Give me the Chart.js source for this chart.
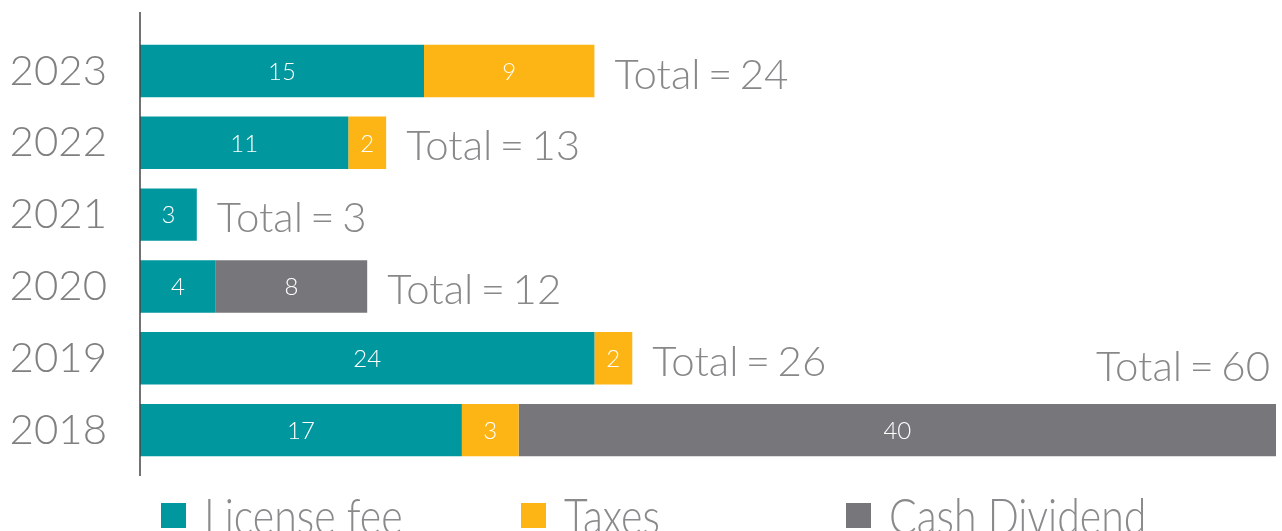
<!DOCTYPE html>
<html>
<head>
<meta charset="utf-8">
<script src="https://cdn.jsdelivr.net/npm/chart.js@4"></script>
<style>
  body { margin: 0; background: #fff; overflow: hidden; }
  .wrap { position: relative; width: 1282px; height: 531px; }
  #legend { position: absolute; left: 0; top: 487px; height: 44px; width: 1282px; overflow: hidden; }
  .item { position: absolute; top: 13px; display: flex; align-items: center; }
  .box { width: 25px; height: 25px; margin-right: 18px; }
  .txt { font-family: Lato, sans-serif; font-weight: 300; font-size: 50px; color: #8a8a8c;
         transform: scaleX(0.82); transform-origin: left center; white-space: nowrap; line-height: 30px; }
</style>
</head>
<body>
<div class="wrap">
  <canvas id="chart" width="1282" height="531"></canvas>
  <div id="legend"></div>
</div>
<script>
const years = ["2023", "2022", "2021", "2020", "2019", "2018"];
const licenseFee = [15, 11, 3, 4, 24, 17];
const taxes = [9, 2, 0, 0, 2, 3];
const cashDividend = [0, 0, 0, 8, 0, 40];
const seriesNames = ["License fee", "Taxes", "Cash Dividend"];
const colors = ["#00979f", "#fdb515", "#77777b"];
const totals = years.map((y, i) => licenseFee[i] + taxes[i] + cashDividend[i]);

// numbers inside the bars + "Total = n" after each bar
const labelsPlugin = {
    id: "barLabels",
    afterDatasetsDraw(chart) {
        const ctx = chart.ctx;
        const xScale = chart.scales.x;
        ctx.save();
        ctx.font = "300 24px Lato";
        ctx.fillStyle = "#fff";
        ctx.textAlign = "center";
        ctx.textBaseline = "middle";
        chart.data.datasets.forEach((ds, d) => {
            chart.getDatasetMeta(d).data.forEach((bar, i) => {
                if (!ds.data[i]) return;
                ctx.fillText(ds.data[i], (bar.x + bar.base) / 2, bar.y + 1);
            });
        });

        ctx.font = "300 42px Lato";
        ctx.fillStyle = "#88888a";
        ctx.textBaseline = "middle";
        ctx.wordSpacing = "-4px";
        const meta = chart.getDatasetMeta(0);
        totals.forEach((t, i) => {
            const y = meta.data[i].y;
            const text = "Total = " + t;
            const end = xScale.getPixelForValue(t);
            const w = ctx.measureText(text).width;
            if (end + 20 + w > chart.width) {
                ctx.textAlign = "right";
                ctx.fillText(text, chart.width - 12, y - 63);
            } else {
                ctx.textAlign = "left";
                ctx.fillText(text, end + 20, y + 4);
            }
        });

        // left axis line
        ctx.strokeStyle = "#444";
        ctx.lineWidth = 1.5;
        ctx.beginPath();
        ctx.moveTo(chart.chartArea.left, 12);
        ctx.lineTo(chart.chartArea.left, 476);
        ctx.stroke();
        ctx.restore();
    }
};

new Chart(document.getElementById("chart"), {
    type: "bar",
    data: {
        labels: years,
        datasets: [licenseFee, taxes, cashDividend].map((data, i) => ({
            label: seriesNames[i],
            data: data,
            backgroundColor: colors[i],
            borderWidth: 0,
            barPercentage: 0.73,
            categoryPercentage: 1
        }))
    },
    options: {
        indexAxis: "y",
        responsive: false,
        animation: false,
        layout: { padding: { left: 0, right: 6, top: 21, bottom: 65 } },
        plugins: { legend: { display: false }, tooltip: { enabled: false } },
        scales: {
            x: { stacked: true, min: 0, max: 60, display: false },
            y: {
                stacked: true,
                grid: { display: false, drawTicks: false },
                border: { display: false },
                ticks: { color: "#808082", font: { family: "Lato", size: 42, weight: 300, lineHeight: 0.1 }, padding: 33 },
                afterFit: s => { s.width = 140; }
            }
        }
    },
    plugins: [labelsPlugin]
});

const legendX = [161, 521, 846];
const legend = document.getElementById("legend");
seriesNames.forEach((name, i) => {
    const item = document.createElement("div");
    item.className = "item";
    item.style.left = legendX[i] + "px";
    item.innerHTML = '<div class="box" style="background:' + colors[i] + '"></div><span class="txt">' + name + '</span>';
    legend.appendChild(item);
});
</script>
</body>
</html>
